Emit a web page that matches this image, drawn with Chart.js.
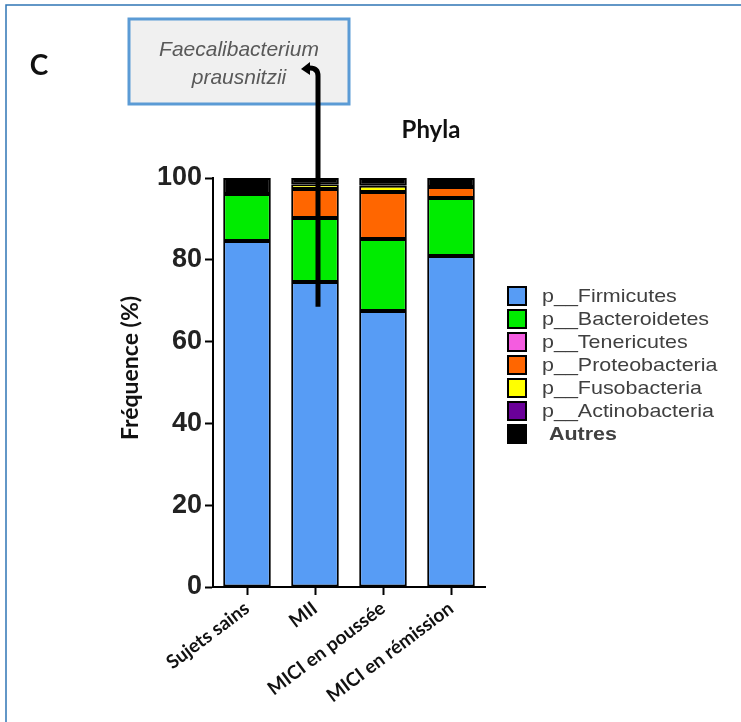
<!DOCTYPE html>
<html>
<head>
<meta charset="utf-8">
<script src="https://cdn.jsdelivr.net/npm/chart.js@4.4.1/dist/chart.umd.min.js"></script>
<style>
  html, body { margin: 0; padding: 0; background: #fff; }
  #wrap { width: 741px; height: 722px; }
</style>
</head>
<body>
<div id="wrap"><canvas id="myChart" width="741" height="722"></canvas></div>
<script>
// groups on the x axis
const groups = ['Sujets sains', 'MII', 'MICI en poussée', 'MICI en rémission'];

// relative abundance (%) per phylum, one value per group
const firmicutes      = [84.6, 74.6, 67.5, 80.9];
const bacteroidetes   = [11.5, 15.6, 17.6, 14.2];
const tenericutes     = [null, null, null, null];
const proteobacteria  = [null, 7.1, 11.5, 2.7];
const fusobacteria    = [null, 1.2, 1.5, null];
const actinobacteria  = [null, null, null, null];
const autres          = [3.9, 1.5, 1.9, 2.2];

const phylaLabels = ['p__Firmicutes', 'p__Bacteroidetes', 'p__Tenericutes', 'p__Proteobacteria',
  'p__Fusobacteria', 'p__Actinobacteria', 'Autres'];
const phylaColors = ['#579cf5', '#00ec00', '#f45ce0', '#ff6600', '#ffff00', '#6a0099', '#000000'];
const yTicks = [0, 20, 40, 60, 80, 100];

const series = [firmicutes, bacteroidetes, tenericutes, proteobacteria, fusobacteria, actinobacteria, autres];

// extra drawing: panel frame, letter, title, annotation box + arrow, legend, y title
const decorations = {
  id: 'decorations',
  afterDraw(chart) {
    const ctx = chart.ctx;
    const xs = chart.scales.x;
    const ys = chart.scales.y;
    ctx.save();

    // frame
    ctx.strokeStyle = '#2f75b5';
    ctx.lineWidth = 1.5;
    ctx.beginPath();
    ctx.moveTo(6, 722);
    ctx.lineTo(6, 5);
    ctx.lineTo(741, 5);
    ctx.stroke();

    // panel letter
    ctx.fillStyle = '#111';
    ctx.textAlign = 'center';
    ctx.textBaseline = 'middle';
    ctx.font = 'bold 28px Lato';
    ctx.fillText('C', 39, 66);

    ctx.font = 'bold 24px Lato';
    ctx.fillText('Phyla', 431, 130);

    // y title
    ctx.save();
    ctx.translate(131, 368);
    ctx.rotate(-Math.PI / 2);
    ctx.font = 'bold 23px Lato';
    ctx.fillText('Fréquence (%)', 0, 0);
    ctx.restore();

    // annotation box
    ctx.fillStyle = '#f0f0f0';
    ctx.fillRect(129, 19, 220, 85);
    ctx.strokeStyle = '#5b9bd5';
    ctx.lineWidth = 3;
    ctx.strokeRect(129, 19, 220, 85);
    ctx.fillStyle = '#595959';
    ctx.font = 'italic 21px "Liberation Sans"';
    ctx.textBaseline = 'alphabetic';
    ctx.fillText('Faecalibacterium', 239, 56);
    ctx.fillText('prausnitzii', 239, 84);

    // arrow from the MII bar to the label
    const ax = xs.getPixelForValue(1) + 3;
    const ay = ys.getPixelForValue(68.5);
    ctx.strokeStyle = '#000';
    ctx.fillStyle = '#000';
    ctx.lineWidth = 5;
    ctx.lineCap = 'butt';
    ctx.beginPath();
    ctx.moveTo(ax, ay);
    ctx.lineTo(ax, 76);
    ctx.quadraticCurveTo(ax, 68, ax - 8, 68);
    ctx.lineTo(ax - 9, 68);
    ctx.stroke();
    ctx.beginPath();
    ctx.moveTo(ax - 17, 69);
    ctx.lineTo(ax - 8, 62);
    ctx.lineTo(ax - 8, 75);
    ctx.closePath();
    ctx.fill();

    // legend
    chart.data.datasets.forEach((ds, i) => {
      const cy = 296 + i * 23;
      ctx.fillStyle = ds.backgroundColor;
      ctx.fillRect(508, cy - 9, 18, 18);
      ctx.strokeStyle = '#000';
      ctx.lineWidth = 2;
      ctx.strokeRect(508, cy - 9, 18, 18);
      ctx.fillStyle = '#404040';
      ctx.textAlign = 'left';
      ctx.textBaseline = 'middle';
      ctx.save();
      const last = i === chart.data.datasets.length - 1;
      ctx.translate(last ? 549 : 542, cy + 1);
      ctx.scale(1.13, 1);
      ctx.font = (last ? 'bold ' : '') + '19px "Liberation Sans"';
      ctx.fillText(ds.label, 0, 0);
      ctx.restore();
    });

    ctx.restore();
  }
};

const ctx = document.getElementById('myChart').getContext('2d');

new Chart(ctx, {
  type: 'bar',
  data: {
    labels: groups,
    datasets: series.map((values, i) => ({
      label: phylaLabels[i],
      data: values,
      backgroundColor: phylaColors[i],
      borderColor: '#000',
      borderWidth: 2,
      borderSkipped: false,
      barPercentage: 0.7,
      categoryPercentage: 1
    }))
  },
  options: {
    responsive: false,
    animation: false,
    devicePixelRatio: 1,
    layout: { padding: { left: 0, top: 178, right: 256, bottom: 0 } },
    plugins: {
      legend: { display: false },
      tooltip: { enabled: false }
    },
    scales: {
      x: {
        stacked: true,
        afterFit: (scale) => { scale.height = 135; },
        border: { color: '#000', width: 2 },
        grid: { offset: false, drawOnChartArea: false, tickLength: 8, tickColor: '#000', tickWidth: 2 },
        ticks: {
          maxRotation: 37,
          minRotation: 37,
          padding: 2,
          color: '#111',
          font: { family: 'Lato', weight: 'bold', size: 19 }
        }
      },
      y: {
        stacked: true,
        min: 0,
        max: 100,
        afterFit: (scale) => { scale.width = 213; },
        afterBuildTicks: (scale) => { scale.ticks = yTicks.map(v => ({ value: v })); },
        border: { color: '#000', width: 2 },
        grid: { drawOnChartArea: false, tickLength: 8, tickColor: '#000', tickWidth: 2 },
        ticks: {
          padding: 3,
          color: '#222',
          font: { family: 'Liberation Sans', weight: 'bold', size: 27 }
        }
      }
    }
  },
  plugins: [decorations]
});
</script>
</body>
</html>
